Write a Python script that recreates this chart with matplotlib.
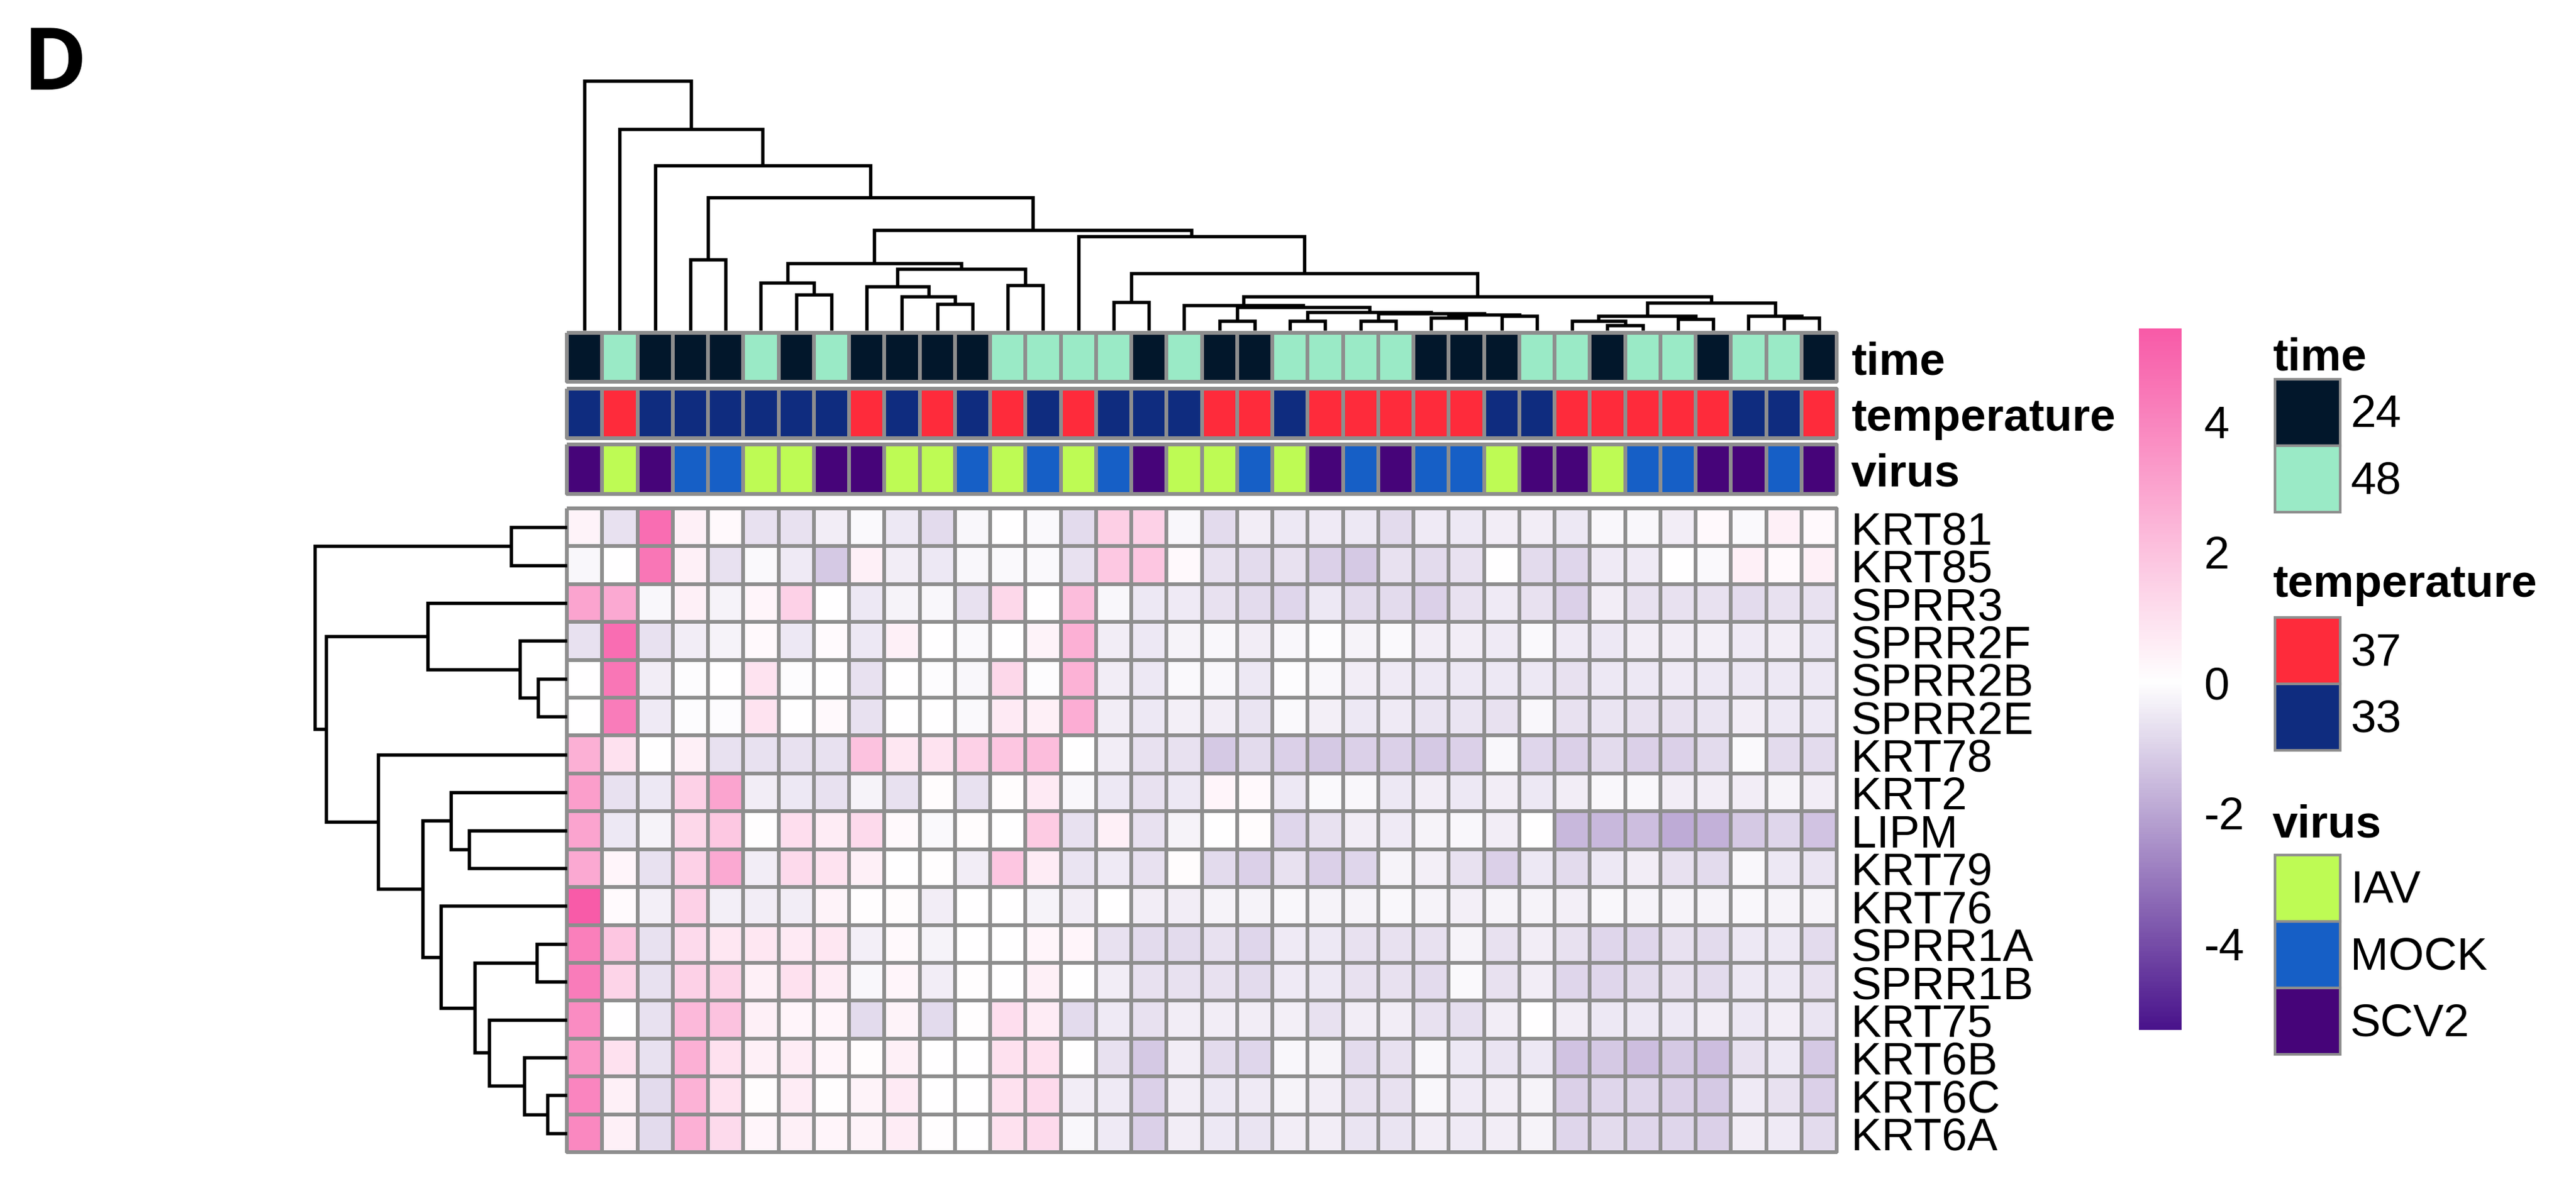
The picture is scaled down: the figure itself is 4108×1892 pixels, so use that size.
import numpy as np
import matplotlib
matplotlib.use("Agg")
import matplotlib.pyplot as plt
from matplotlib.colors import LinearSegmentedColormap, TwoSlopeNorm, ListedColormap
from matplotlib.patches import Rectangle

W, H, DPI = 4108, 1893, 300
FONT = "Liberation Sans"
FS = 17.5
GRID = "#8E8E8E"

# ---------------- data ----------------
genes = ["KRT81", "KRT85", "SPRR3", "SPRR2F", "SPRR2B", "SPRR2E", "KRT78", "KRT2",
         "LIPM", "KRT79", "KRT76", "SPRR1A", "SPRR1B", "KRT75", "KRT6B", "KRT6C", "KRT6A"]

time = ["24", "48", "24", "24", "24", "48", "24", "48", "24", "24", "24", "24",
        "48", "48", "48", "48", "24", "48", "24", "24", "48", "48", "48", "48",
        "24", "24", "24", "48", "48", "24", "48", "48", "24", "48", "48", "24"]
temperature = ["33", "37", "33", "33", "33", "33", "33", "33", "37", "33", "37", "33",
               "37", "33", "37", "33", "33", "33", "37", "37", "33", "37", "37", "37",
               "37", "37", "33", "33", "37", "37", "37", "37", "37", "33", "33", "37"]
virus = ["SCV2", "IAV", "SCV2", "MOCK", "MOCK", "IAV", "IAV", "SCV2", "SCV2", "IAV", "IAV", "MOCK",
         "IAV", "MOCK", "IAV", "MOCK", "SCV2", "IAV", "IAV", "MOCK", "IAV", "SCV2", "MOCK", "SCV2",
         "MOCK", "MOCK", "IAV", "SCV2", "SCV2", "IAV", "MOCK", "MOCK", "SCV2", "SCV2", "MOCK", "SCV2"]

time_levels = ["24", "48"]
time_colors = ["#02172B", "#9AEAC6"]
temp_levels = ["37", "33"]
temp_colors = ["#FE2B3B", "#0F2C7F"]
virus_levels = ["IAV", "MOCK", "SCV2"]
virus_colors = ["#BEFB54", "#165FC6", "#460479"]

values = np.array([
    [0.4, -0.68, 4.8, 0.5, 0.2, -0.68, -0.68, -0.4, -0.15, -0.54, -0.81, -0.2, 0.0, -0.15, -0.81, 1.6, 1.5, -0.2,
     -0.81, -0.4, -0.54, -0.47, -0.54, -0.81, -0.47, -0.54, -0.4, -0.4, -0.54, -0.2, -0.2, -0.4, 0.2, -0.15, 0.5, 0.2],
    [-0.2, 0.0, 4.5, 0.5, -0.68, -0.15, -0.47, -1.22, 0.5, -0.4, -0.54, -0.2, -0.15, -0.15, -0.68, 1.8, 1.9, 0.2,
     -0.68, -0.81, -0.68, -1.08, -1.22, -0.68, -0.81, -0.68, 0.0, -0.81, -0.95, -0.47, -0.47, 0.0, -0.15, 0.5, 0.2, 0.5],
    [3.0, 2.8, -0.2, 0.5, -0.27, 0.3, 1.5, 0.0, -0.54, -0.27, -0.2, -0.68, 1.3, 0.0, 2.2, -0.2, -0.54, -0.47,
     -0.68, -0.81, -0.95, -0.54, -0.81, -0.81, -1.08, -0.68, -0.47, -0.68, -1.08, -0.4, -0.68, -0.68, -0.68, -0.81, -0.68, -0.68],
    [-0.68, 4.8, -0.68, -0.4, -0.27, 0.2, -0.54, 0.15, -0.54, 0.5, 0.0, -0.15, 0.0, 0.4, 2.6, -0.4, -0.54, -0.27,
     -0.2, -0.4, -0.2, -0.07, -0.27, -0.15, -0.4, -0.4, -0.47, -0.15, -0.47, -0.54, -0.4, -0.4, -0.34, -0.47, -0.4, -0.54],
    [0.0, 4.5, -0.4, -0.07, 0.0, 0.9, -0.07, 0.0, -0.68, 0.0, -0.07, -0.2, 1.3, -0.07, 2.5, -0.4, -0.54, -0.15,
     -0.2, -0.54, -0.07, -0.2, -0.4, -0.47, -0.54, -0.54, -0.54, -0.54, -0.68, -0.54, -0.54, -0.47, -0.54, -0.54, -0.54, -0.54],
    [0.0, 4.3, -0.47, -0.07, -0.07, 0.9, 0.0, 0.2, -0.68, 0.0, 0.0, -0.15, 0.7, 0.5, 2.7, -0.4, -0.54, -0.34,
     -0.4, -0.6, -0.15, -0.34, -0.54, -0.47, -0.6, -0.6, -0.68, -0.2, -0.68, -0.6, -0.68, -0.68, -0.6, -0.4, -0.54, -0.54],
    [2.6, 1.0, 0.0, 0.5, -0.68, -0.68, -0.68, -0.68, 2.0, 0.8, 0.9, 1.5, 1.9, 2.2, 0.0, -0.4, -0.68, -0.68,
     -1.22, -0.81, -1.08, -1.22, -1.08, -1.08, -1.22, -1.08, -0.2, -0.95, -1.08, -0.81, -1.08, -1.08, -0.81, -0.15, -0.81, -0.81],
    [3.2, -0.68, -0.54, 1.5, 3.0, -0.4, -0.54, -0.68, -0.27, -0.68, 0.1, -0.68, 0.1, 0.7, -0.2, -0.54, -0.68, -0.54,
     0.3, 0.2, -0.54, -0.15, -0.2, -0.54, -0.4, -0.54, -0.4, -0.54, -0.4, -0.2, -0.2, -0.4, -0.4, -0.4, -0.27, -0.4],
    [3.0, -0.54, -0.27, 1.3, 1.8, 0.05, 1.1, 0.6, 1.2, 0.2, -0.15, 0.1, 0.0, 1.7, -0.68, 0.5, -0.68, -0.27,
     0.0, 0.1, -0.95, -0.68, -0.4, -0.47, -0.27, -0.2, -0.4, 0.0, -1.62, -1.62, -1.49, -1.89, -1.76, -1.22, -0.95, -1.35],
    [2.8, 0.3, -0.68, 1.5, 2.8, -0.4, 1.2, 0.9, 0.5, 0.0, 0.05, -0.4, 1.9, 0.6, -0.6, -0.47, -0.68, 0.1,
     -0.81, -1.08, -0.68, -1.08, -0.95, -0.27, -0.34, -0.68, -1.08, -0.54, -0.81, -0.54, -0.4, -0.68, -0.81, -0.2, -0.54, -0.6],
    [5.4, 0.15, -0.34, 1.5, -0.34, -0.4, -0.4, 0.4, 0.05, 0.1, -0.4, 0.0, 0.0, -0.27, -0.4, 0.0, -0.4, -0.4,
     -0.27, -0.27, -0.2, -0.27, -0.27, -0.2, -0.27, -0.34, -0.27, -0.27, -0.34, -0.2, -0.27, -0.27, -0.27, -0.2, -0.27, -0.27],
    [4.2, 1.9, -0.68, 1.2, 0.8, 0.8, 0.7, 0.8, -0.34, 0.2, -0.27, 0.0, 0.0, 0.3, 0.3, -0.68, -0.81, -0.81,
     -0.68, -0.95, -0.47, -0.54, -0.68, -0.68, -0.68, -0.27, -0.68, -0.4, -0.68, -0.95, -0.95, -0.68, -0.81, -0.54, -0.54, -0.81],
    [4.3, 1.4, -0.68, 1.5, 1.4, 0.5, 1.0, 0.6, -0.2, 0.3, -0.4, 0.05, 0.0, 0.5, 0.0, -0.4, -0.68, -0.68,
     -0.68, -0.81, -0.47, -0.54, -0.68, -0.68, -0.81, -0.15, -0.68, -0.4, -0.95, -0.95, -0.81, -0.68, -0.81, -0.54, -0.54, -0.68],
    [3.8, 0.0, -0.68, 2.3, 2.0, 0.5, 0.3, 0.3, -0.81, 0.4, -0.81, 0.05, 1.1, 0.6, -0.81, -0.47, -0.68, -0.4,
     -0.4, -0.4, -0.34, -0.68, -0.4, -0.4, -0.68, -0.74, -0.4, 0.0, -0.4, -0.54, -0.54, -0.54, -0.4, -0.54, -0.4, -0.6],
    [3.4, 1.0, -0.68, 2.6, 1.0, 0.5, 0.6, 0.3, 0.1, 0.5, 0.0, 0.0, 1.0, 1.0, 0.0, -0.68, -1.22, -0.4,
     -0.81, -0.95, -0.2, -0.27, -0.81, -0.68, -0.2, -0.54, -0.6, -0.54, -1.35, -1.22, -1.49, -1.22, -1.49, -0.68, -0.54, -1.22],
    [4.0, 0.5, -0.81, 2.5, 1.0, 0.1, 0.6, 0.05, 0.4, 0.7, 0.0, 0.0, 1.0, 1.2, -0.4, -0.47, -1.08, -0.4,
     -0.54, -0.47, -0.27, -0.4, -0.68, -0.68, -0.2, -0.47, -0.4, -0.27, -1.08, -0.95, -0.95, -1.08, -1.22, -0.47, -0.68, -1.08],
    [3.9, 0.5, -0.81, 2.6, 1.2, 0.3, 0.5, 0.3, 0.4, 0.6, 0.05, 0.0, 1.0, 1.2, -0.2, -0.47, -1.08, -0.4,
     -0.54, -0.6, -0.4, -0.4, -0.6, -0.6, -0.4, -0.47, -0.4, -0.27, -0.95, -0.81, -0.95, -0.95, -1.08, -0.4, -0.47, -0.81],
])

# linkage: (left child, right child, height) ; leaves 0..n-1, merges numbered n, n+1, ...
col_linkage = [
    (10, 11, 0.105), (9, 36, 0.135), (8, 37, 0.176), (12, 13, 0.180), (38, 39, 0.245),
    (6, 7, 0.142), (5, 41, 0.190), (42, 40, 0.268), (15, 16, 0.114), (18, 19, 0.038),
    (20, 21, 0.038), (22, 23, 0.038), (24, 25, 0.051), (26, 27, 0.059), (48, 49, 0.063),
    (47, 50, 0.068), (46, 51, 0.072), (45, 52, 0.093), (17, 53, 0.101), (29, 30, 0.021),
    (28, 55, 0.038), (31, 32, 0.046), (56, 57, 0.059), (34, 35, 0.051), (33, 59, 0.059),
    (58, 60, 0.110), (54, 61, 0.135), (44, 62, 0.228), (14, 63, 0.377), (43, 64, 0.401),
    (3, 4, 0.285), (66, 65, 0.532), (2, 67, 0.660), (1, 68, 0.806), (0, 69, 1.0),
]
row_linkage = [
    (0, 1, 0.221), (4, 5, 0.115), (3, 18, 0.187), (2, 19, 0.552), (8, 9, 0.387),
    (7, 21, 0.459), (15, 16, 0.076), (14, 23, 0.170), (13, 24, 0.308), (11, 12, 0.119),
    (26, 25, 0.365), (10, 27, 0.501), (22, 28, 0.572), (6, 29, 0.748), (20, 30, 0.956),
    (17, 31, 1.0),
]

VMIN, VMAX = -5.33, 5.42
cbar_ticks = [4, 2, 0, -2, -4]

# ---------------- helpers ----------------
plt.rcParams["font.family"] = [FONT, "DejaVu Sans"]
fig = plt.figure(figsize=(W / DPI, H / DPI), dpi=DPI)


def px_axes(x0, y0, x1, y1):
    return fig.add_axes([x0 / W, 1 - y1 / H, (x1 - x0) / W, (y1 - y0) / H])


def dendro_paths(linkage, n):
    pos = {i: i + 0.5 for i in range(n)}
    hgt = {i: 0.0 for i in range(n)}
    paths = []
    for k, (a, b, h) in enumerate(linkage):
        xa, xb = pos[a], pos[b]
        paths.append(([xa, xa, xb, xb], [hgt[a], h, h, hgt[b]]))
        pos[n + k] = (xa + xb) / 2
        hgt[n + k] = h
    return paths


cmap = LinearSegmentedColormap.from_list("pw", ["#4A148C", "#FFFFFF", "#F85BA8"], N=256)
norm = TwoSlopeNorm(vcenter=0.0, vmin=VMIN, vmax=VMAX)

nrow, ncol = values.shape

# overlay for panel letter and discrete legends
ov = fig.add_axes([0, 0, 1, 1])
ov.set_xlim(0, W)
ov.set_ylim(H, 0)
ov.axis("off")
ov.text(37, 143, "D", fontsize=33, fontweight="bold", family=["Open Sans", "DejaVu Sans"],
        va="baseline", ha="left")

# ---------------- heatmap ----------------
HX0, HX1, HY0, HY1 = 904, 2929, 812, 1839
axh = px_axes(HX0, HY0, HX1, HY1)
mesh = axh.pcolormesh(values, cmap=cmap, norm=norm, edgecolors=GRID, linewidth=1.0)
mesh.set_clip_on(False)
axh.set_xlim(0, ncol)
axh.set_ylim(nrow, 0)
axh.set_xticks([])
axh.yaxis.tick_right()
axh.set_yticks(np.arange(nrow) + 0.5)
axh.set_yticklabels(genes, fontsize=FS)
axh.tick_params(axis="y", length=0, pad=5.5)
for s in axh.spines.values():
    s.set_visible(False)

# ---------------- annotation rows ----------------
ann_rows = [("time", time, time_levels, time_colors, 532, 610),
            ("temperature", temperature, temp_levels, temp_colors, 621, 700),
            ("virus", virus, virus_levels, virus_colors, 710, 789)]
for name, vals, levels, colors, y0, y1 in ann_rows:
    ax = px_axes(HX0, y0, HX1, y1)
    codes = np.array([[levels.index(v) for v in vals]])
    m = ax.pcolormesh(codes, cmap=ListedColormap(colors), vmin=-0.5, vmax=len(levels) - 0.5,
                      edgecolors=GRID, linewidth=1.0)
    m.set_clip_on(False)
    ax.set_xlim(0, ncol)
    ax.set_ylim(1, 0)
    ax.set_xticks([])
    ax.yaxis.tick_right()
    ax.set_yticks([0.5])
    ax.set_yticklabels([name], fontsize=FS, fontweight="bold")
    ax.tick_params(axis="y", length=0, pad=5.5)
    for s in ax.spines.values():
        s.set_visible(False)

# ---------------- column dendrogram ----------------
axc = px_axes(HX0, 130, HX1, 528)
for xs, ys in dendro_paths(col_linkage, ncol):
    axc.plot(xs, ys, color="black", lw=1.3, clip_on=False, solid_joinstyle="miter",
             solid_capstyle="butt")
axc.set_xlim(0, ncol)
axc.set_ylim(0, 1)
axc.axis("off")

# ---------------- row dendrogram ----------------
axr = px_axes(502, HY0, HX0, HY1)
for ps, hs in dendro_paths(row_linkage, nrow):
    axr.plot(hs, ps, color="black", lw=1.3, clip_on=False, solid_joinstyle="miter",
             solid_capstyle="butt")
axr.set_xlim(1, 0)
axr.set_ylim(nrow, 0)
axr.axis("off")

# ---------------- colour bar ----------------
axb = px_axes(3411, 525, 3479, 1644)
grad = np.linspace(VMAX, VMIN, 400)[:, None]
axb.imshow(grad, aspect="auto", cmap=cmap, norm=norm, extent=[0, 1, VMIN, VMAX],
           interpolation="nearest")
axb.set_xlim(0, 1)
axb.set_ylim(VMIN, VMAX)
axb.set_xticks([])
axb.yaxis.tick_right()
axb.set_yticks(cbar_ticks)
axb.set_yticklabels([str(t) for t in cbar_ticks], fontsize=FS)
axb.tick_params(axis="y", length=0, pad=8.5)
for s in axb.spines.values():
    s.set_visible(False)

# ---------------- discrete legends ----------------
legend_groups = [("time", time_levels, time_colors),
                 ("temperature", temp_levels, temp_colors),
                 ("virus", virus_levels, virus_colors)]
title_y = [572, 933, 1317]
box_top = [606, 986, 1365]
BOX_X, BOX_W, BOX_H, LAB_X = 3628, 104, 106, 3748
for (title, levels, colors), ty, bt in zip(legend_groups, title_y, box_top):
    ov.text(BOX_X - 4, ty, title, fontsize=FS, fontweight="bold", ha="left", va="center")
    for i, (lev, col) in enumerate(zip(levels, colors)):
        y = bt + i * BOX_H
        ov.add_patch(Rectangle((BOX_X, y), BOX_W, BOX_H, facecolor=col, edgecolor=GRID, lw=1.0))
        ov.text(LAB_X, y + BOX_H / 2 + 4, lev, fontsize=FS, ha="left", va="center")

fig.savefig("out.png", dpi=DPI)
